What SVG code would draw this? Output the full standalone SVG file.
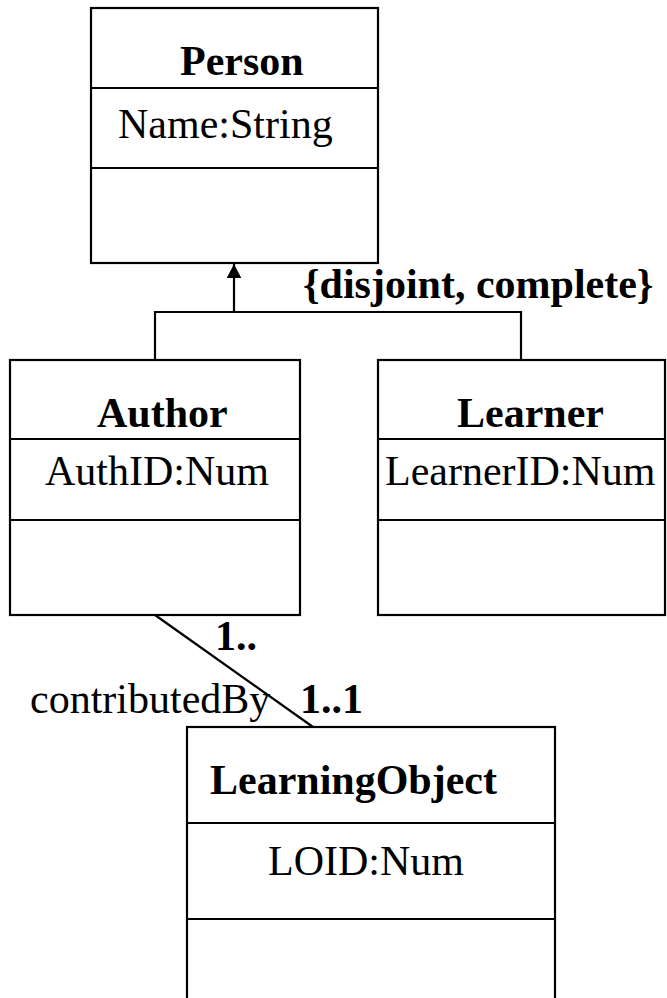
<svg xmlns="http://www.w3.org/2000/svg" width="667" height="998" viewBox="0 0 667 998">
  <style>
    .box { fill: #ffffff; stroke: #000000; stroke-width: 2.2; }
    .div { stroke: #000000; stroke-width: 2.2; }
    .conn { fill: none; stroke: #000000; stroke-width: 2.2; }
    .title { font-family: "Liberation Serif", "Times New Roman", serif; font-weight: bold; font-size: 42px; fill: #000000; }
    .attr { font-family: "Liberation Serif", "Times New Roman", serif; font-size: 42px; fill: #000000; }
  </style>
  <defs>
    <marker id="arrow" markerWidth="7" markerHeight="7" refX="6.5" refY="3.4" orient="auto" markerUnits="strokeWidth">
      <path d="M0,0 L6.5,3.4 L0,6.8 Z" fill="#000000"/>
    </marker>
  </defs>

  <g id="connectors">
    <!-- generalization tree -->
    <line class="conn" x1="234" y1="312" x2="234" y2="264" marker-end="url(#arrow)"/>
    <polyline class="conn" points="155,360 155,312 521,312 521,360"/>
    <text class="title" x="303" y="298">{disjoint, complete}</text>
    <!-- association -->
    <line class="conn" x1="155" y1="615" x2="313" y2="727"/>
    <text class="title" x="215" y="650">1..</text>
    <text class="attr" x="30" y="713">contributedBy</text>
    <text class="title" x="300" y="713">1..1</text>
  </g>

  <g id="person">
    <rect class="box" x="91" y="8" width="287" height="255"/>
    <line class="div" x1="91" y1="88" x2="378" y2="88"/>
    <line class="div" x1="91" y1="168" x2="378" y2="168"/>
    <text class="title" x="180" y="75">Person</text>
    <text class="attr" x="118" y="138">Name:String</text>
  </g>

  <g id="author">
    <rect class="box" x="10" y="360" width="290" height="255"/>
    <line class="div" x1="10" y1="439" x2="300" y2="439"/>
    <line class="div" x1="10" y1="520" x2="300" y2="520"/>
    <text class="title" x="97" y="427">Author</text>
    <text class="attr" x="45" y="485">AuthID:Num</text>
  </g>

  <g id="learner">
    <rect class="box" x="378" y="360" width="287" height="255"/>
    <line class="div" x1="378" y1="439" x2="665" y2="439"/>
    <line class="div" x1="378" y1="520" x2="665" y2="520"/>
    <text class="title" x="457" y="427">Learner</text>
    <text class="attr" x="385" y="485">LearnerID:Num</text>
  </g>

  <g id="learningobject">
    <rect class="box" x="187" y="727" width="368" height="290"/>
    <line class="div" x1="187" y1="823" x2="555" y2="823"/>
    <line class="div" x1="187" y1="919" x2="555" y2="919"/>
    <text class="title" x="210" y="794">LearningObject</text>
    <text class="attr" x="268" y="875">LOID:Num</text>
  </g>
</svg>
